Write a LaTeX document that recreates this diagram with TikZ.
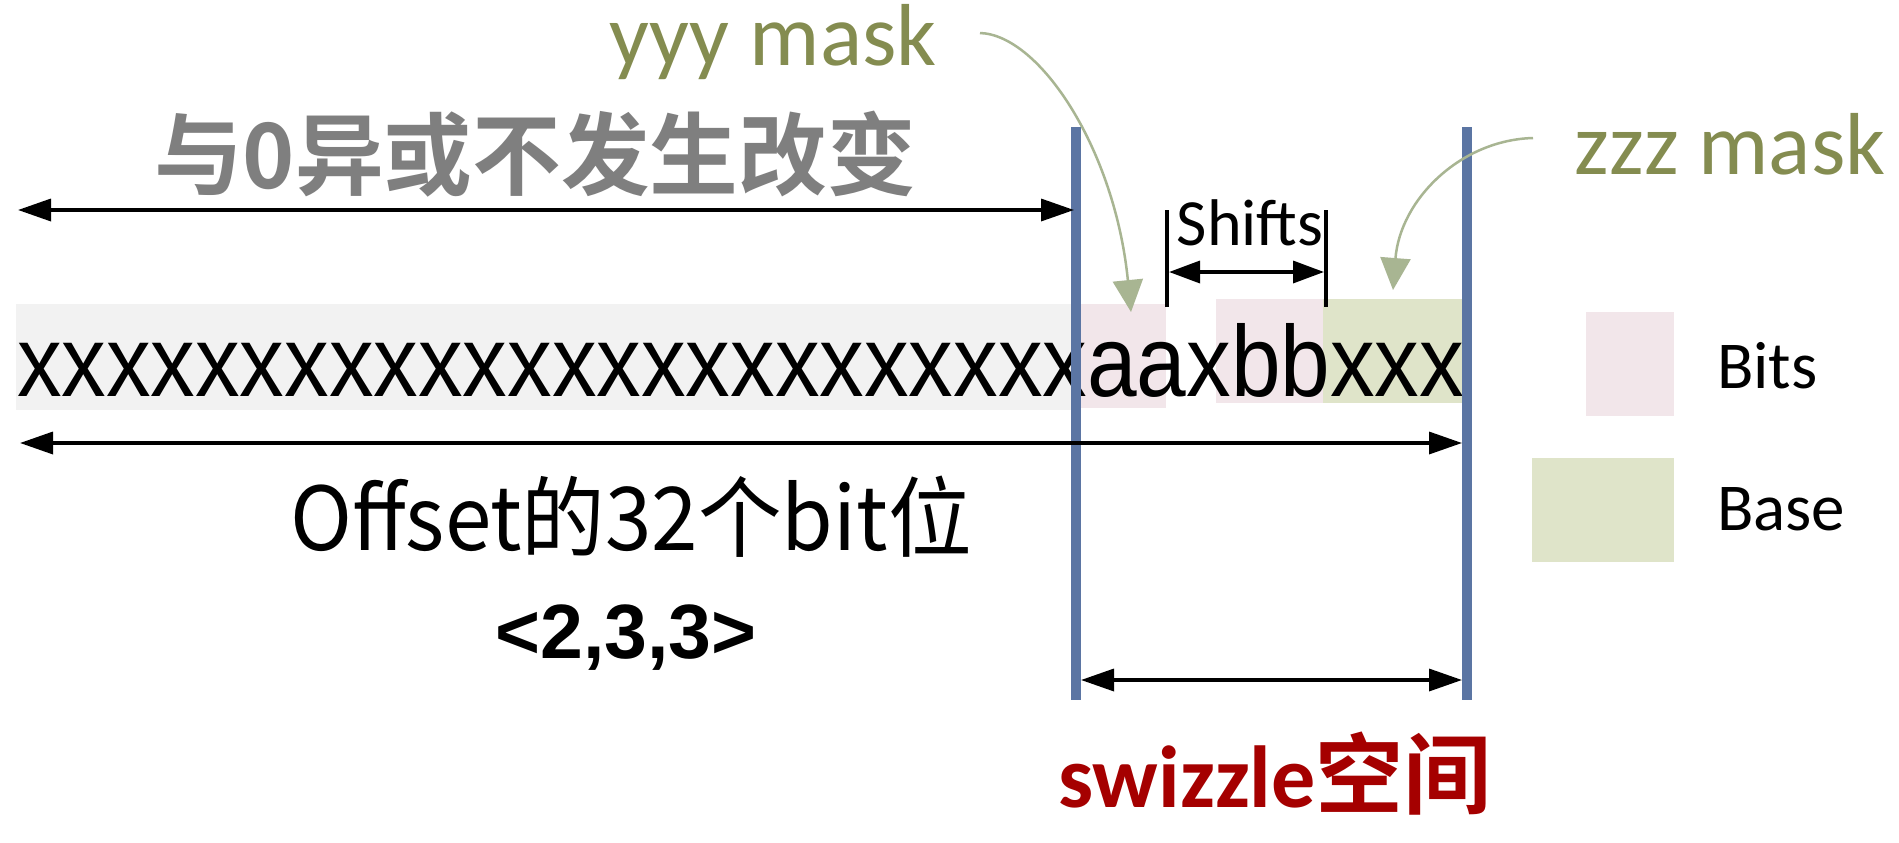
\documentclass[tikz,border=0pt]{standalone}
\usepackage{fontspec}
\setmainfont{Carlito}
\newfontfamily\cjk{Noto Sans CJK SC}[BoldFont={Noto Sans CJK SC Bold}]
\newfontfamily\arialf{Liberation Sans}
\usetikzlibrary{arrows.meta}
\definecolor{bandgray}{RGB}{242,242,242}
\definecolor{bitpink}{RGB}{242,230,234}
\definecolor{basegreen}{RGB}{223,228,201}
\definecolor{olive}{RGB}{132,140,80}
\definecolor{arrowgreen}{RGB}{168,181,146}
\definecolor{barblue}{RGB}{91,117,163}
\definecolor{darkred}{RGB}{165,0,0}
\definecolor{titlegray}{RGB}{127,127,127}
\begin{document}
\begin{tikzpicture}[x=1pt,y=-1pt,
  band/.style={draw=none, inner sep=0, outer sep=0, anchor=north west},
  dimarrow/.style={line width=3.5pt, black, {Triangle[length=33pt,width=22pt]}-{Triangle[length=33pt,width=22pt]}},
  callout/.style={line width=2.5pt, arrowgreen, -{Triangle[length=32pt,width=30pt]}},
  bluebar/.style={line width=10pt, barblue},
  tick/.style={line width=4pt, black},
  txt/.style={inner sep=0, outer sep=0}]
\useasboundingbox (0,0) rectangle (1899,843);
\fill[white] (0,0) rectangle (1899,843);

% bands
\node[band, fill=bandgray, minimum width=1060pt, minimum height=106pt] (grayband) at (16,304) {};
\node[band, fill=bitpink, minimum width=90pt, minimum height=104pt] (aaband) at (1076,304) {};
\node[band, fill=bitpink, minimum width=107pt, minimum height=104pt] (bbband) at (1216,299) {};
\node[band, fill=basegreen, minimum width=139pt, minimum height=104pt] (baseband) at (1323,299) {};

% legend
\node[band, fill=bitpink, minimum width=88pt, minimum height=104pt] (legbits) at (1586,312) {};
\node[band, fill=basegreen, minimum width=142pt, minimum height=104pt] (legbase) at (1532,458) {};
\node[txt, anchor=base west, font=\fontsize{67pt}{80pt}\selectfont] (bitstxt) at (1717,388) {Bits};
\node[txt, anchor=base west, font=\fontsize{67pt}{80pt}\selectfont] (basetxt) at (1717,530) {Base};

% bit row
\node[txt, anchor=base west] (row) at (17,396)
  {\resizebox{1446pt}{73pt}{\arialf xxxxxxxxxxxxxxxxxxxxxxxxaaxbbxxx}};

% blue bars
\coordinate (L1t) at (1076,127);
\coordinate (L1b) at (1076,700);
\coordinate (L2t) at (1467,127);
\coordinate (L2b) at (1467,700);
\draw[bluebar] (L1t) -- (L1b);
\draw[bluebar] (L2t) -- (L2b);

% top text and arrow
\node[txt, text=titlegray, font=\cjk\bfseries\fontsize{90pt}{100pt}\selectfont] (title) at (535,154)
  {\scalebox{0.985}[1]{与0异或不发生改变}};
\coordinate (ta1) at (18,210);
\coordinate (ta2) at (1074,210);
\draw[dimarrow] (ta1) -- (ta2);

% 32-bit arrow
\coordinate (ba1) at (20,443);
\coordinate (ba2) at (1462,443);
\draw[dimarrow] (ba1) -- (ba2);
\node[txt, anchor=base, font=\cjk\fontsize{88pt}{100pt}\selectfont] (offset) at (631,550)
  {\scalebox{0.95}[1]{Offset的32个bit位}};
\node[txt, anchor=base, font=\arialf\bfseries\fontsize{77pt}{90pt}\selectfont] (tuple) at (626,658) {<2,3,3>};

% swizzle arrow
\coordinate (sa1) at (1081,680);
\coordinate (sa2) at (1462,680);
\draw[dimarrow] (sa1) -- (sa2);
\node[txt, anchor=base, text=darkred, font=\bfseries\fontsize{88pt}{100pt}\selectfont] (swz) at (1275,807)
  {swizzle{\cjk 空间}};

% shifts
\coordinate (s1t) at (1167,210);
\coordinate (s1b) at (1167,307);
\coordinate (s2t) at (1326,210);
\coordinate (s2b) at (1326,307);
\draw[tick] (s1t) -- (s1b);
\draw[tick] (s2t) -- (s2b);
\coordinate (sh1) at (1169,272);
\coordinate (sh2) at (1324,272);
\draw[dimarrow, {Triangle[length=31pt,width=22pt]}-{Triangle[length=31pt,width=22pt]}] (sh1) -- (sh2);
\node[txt, anchor=base, font=\fontsize{66pt}{80pt}\selectfont] (shifts) at (1250,245) {Shifts};

% mask labels and callouts
\node[txt, anchor=base, text=olive, font=\fontsize{88pt}{100pt}\selectfont] (yyy) at (773,66) {yyy mask};
\node[txt, anchor=base, text=olive, font=\fontsize{88pt}{100pt}\selectfont] (zzz) at (1730,174) {zzz mask};
\coordinate (ys) at (980,33);
\coordinate (yt) at (1131,312);
\draw[callout] (ys) .. controls (1040,35) and (1115,150) .. (yt);
\coordinate (zs) at (1533,138);
\coordinate (zt) at (1393,290);
\draw[callout] (zs) .. controls (1460,140) and (1400,200) .. (zt);
\end{tikzpicture}
\end{document}
